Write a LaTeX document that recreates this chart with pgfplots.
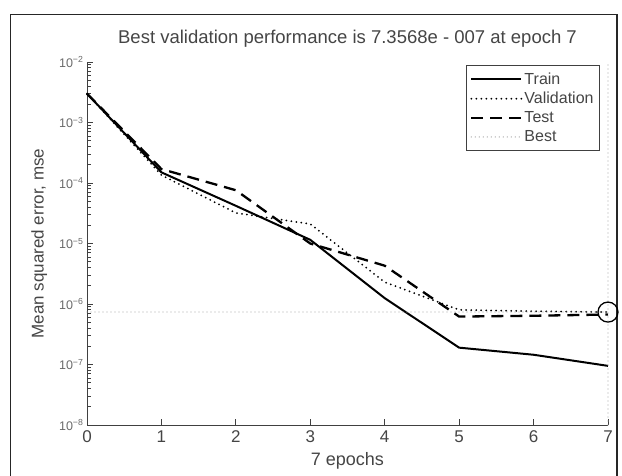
\documentclass[border=0pt]{standalone}
\usepackage{pgfplots}
\pgfplotsset{compat=1.18}
\usepackage{fontspec}
\setmainfont{Liberation Sans}
\definecolor{txt}{HTML}{454545}
\definecolor{bestc}{HTML}{A8A8A8}
\begin{document}
\begin{tikzpicture}[x=1pt,y=1pt]
\useasboundingbox (0,0) rectangle (622,-475);
\draw[line width=1.6pt,black!85] (10.5,-480) -- (10.5,-14.5) -- (617,-14.5) -- (617,-480);
\begin{axis}[
  at={(87pt,-425pt)}, anchor=south west,
  scale only axis, width=521pt, height=363pt,
  xmin=0, xmax=7, ymin=1e-8, ymax=1e-2, ymode=log,
  clip=false,
  axis x line*=bottom, axis y line*=left,
  axis line style={-, black!75, line width=1pt},
  every tick/.style={black!75, line width=0.8pt},
  major tick length=6pt, minor tick length=3.5pt,
  xtick={0,1,2,3,4,5,6,7},
  ytick={1e-8,1e-7,1e-6,1e-5,1e-4,1e-3,1e-2},
  yticklabels={10\textsuperscript{−8},10\textsuperscript{−7},10\textsuperscript{−6},10\textsuperscript{−5},10\textsuperscript{−4},10\textsuperscript{−3},10\textsuperscript{−2}},
  /pgf/number format/assume math mode=true,
  x tick label style={font=\fontsize{17}{19}\selectfont, text=txt, yshift=-2pt},
  y tick label style={font=\fontsize{12.5}{14}\selectfont, text=txt!80},
  xlabel={7 epochs},
  ylabel={Mean squared error, mse},
  xlabel style={font=\fontsize{18}{20}\selectfont, text=txt, yshift=-3pt},
  ylabel style={font=\fontsize{17}{19}\selectfont, text=txt, yshift=5pt},
  title={Best validation performance is 7.3568e - 007 at epoch 7},
  title style={font=\fontsize{18.5}{21}\selectfont, text=txt, at={(0.5,1)}, anchor=south, yshift=5pt},
  legend style={at={(0.985,0.992)}, anchor=north east, draw=black!75, line width=1.2pt,
    font=\fontsize{16}{19}\selectfont, text=txt, inner xsep=4pt, inner ysep=5pt, row sep=2.5pt},
  legend cell align=left,
  legend image code/.code={\draw[#1] (0pt,0pt) -- (50pt,0pt);},
]
\addplot[black, line width=2pt] coordinates {
 (0,3.0e-3) (1,1.5e-4) (2,4.2e-5) (3,1.15e-5) (4,1.25e-6) (5,1.9e-7) (6,1.45e-7) (7,9.5e-8)};
\addlegendentry{Train}
\addplot[black, line width=2pt, line cap=round, dash pattern=on 0pt off 5pt] coordinates {
 (0,3.0e-3) (1,1.35e-4) (2,3.2e-5) (3,2.1e-5) (4,2.3e-6) (5,8.0e-7) (6,7.6e-7) (7,7.3568e-7)};
\addlegendentry{Validation}
\addplot[black, line width=2.3pt, dash pattern=on 12pt off 7pt] coordinates {
 (0,3.0e-3) (1,1.7e-4) (2,7.6e-5) (3,1.0e-5) (4,4.3e-6) (5,6.2e-7) (6,6.4e-7) (7,6.7e-7)};
\addlegendentry{Test}
\addplot[bestc, line width=1.3pt, line cap=round, dash pattern=on 0pt off 4pt] coordinates {
 (0,7.3568e-7) (7,7.3568e-7)};
\addlegendentry{Best}
\addplot[bestc, line width=1.3pt, line cap=round, dash pattern=on 0pt off 4pt, forget plot] coordinates {
 (7,1e-8) (7,1e-2)};
\addplot[black, only marks, mark=o, mark size=10pt, line width=1.3pt, forget plot] coordinates {
 (7,7.3568e-7)};
\end{axis}
\end{tikzpicture}
\end{document}
